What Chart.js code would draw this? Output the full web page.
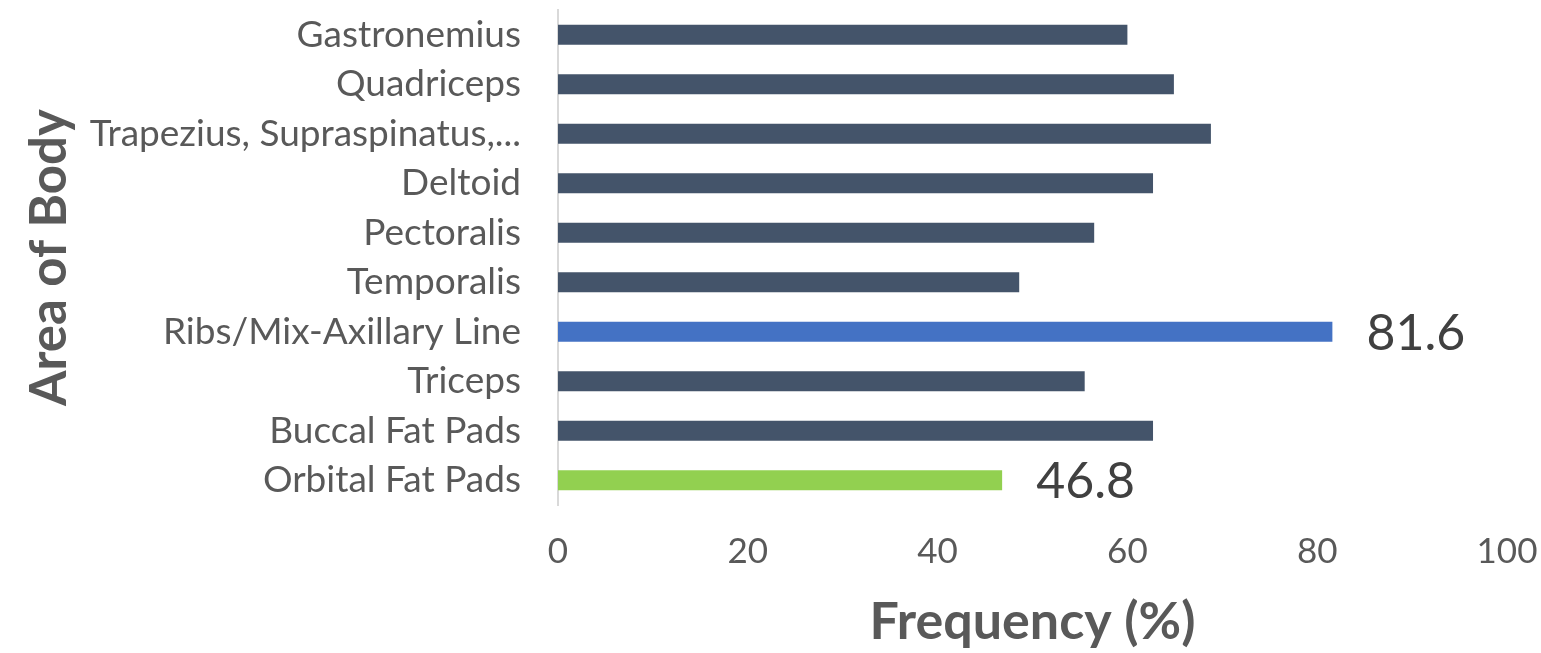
<!DOCTYPE html>
<html>
<head>
<meta charset="utf-8">
<script src="https://cdn.jsdelivr.net/npm/chart.js@4"></script>
<style>
	html, body { margin: 0; padding: 0; background: #ffffff; }
	#wrap { width: 1541px; height: 653px; }
</style>
</head>
<body>
<div id="wrap"><canvas id="bodyChart"></canvas></div>
<script>
// 데이터
var areas = ['Gastronemius', 'Quadriceps', 'Trapezius, Supraspinatus,...', 'Deltoid', 'Pectoralis',
	'Temporalis', 'Ribs/Mix-Axillary Line', 'Triceps', 'Buccal Fat Pads', 'Orbital Fat Pads'];
var frequency = [60.0, 64.9, 68.8, 62.7, 56.5, 48.6, 81.6, 55.5, 62.7, 46.8];
var maxArea = 'Ribs/Mix-Axillary Line';
var minArea = 'Orbital Fat Pads';
var xTicks = [0, 20, 40, 60, 80, 100];

var barColors = areas.map(function(a) {
	if (a === maxArea) return '#4472c4';
	if (a === minArea) return '#92d050';
	return '#44546a';
});

// 최대/최소 막대에만 값 표시
var valueLabels = {
	id: 'valueLabels',
	afterDatasetsDraw: function(chart) {
		var ctx = chart.ctx;
		var meta = chart.getDatasetMeta(0);
		ctx.save();
		ctx.font = '50px Lato';
		ctx.fillStyle = '#404040';
		ctx.textAlign = 'left';
		ctx.textBaseline = 'middle';
		meta.data.forEach(function(bar, i) {
			if (areas[i] !== maxArea && areas[i] !== minArea) return;
			ctx.fillText(frequency[i].toFixed(1), bar.x + 34, bar.y + 2);
		});
		ctx.restore();
	}
};

var chartArea = document.getElementById('bodyChart').getContext('2d');
var myChart = new Chart(chartArea, {
	type: 'bar',
	data: {
		labels: areas,
		datasets: [{
			data: frequency,
			backgroundColor: barColors,
			barPercentage: 0.8,
			categoryPercentage: 0.5
		}]
	},
	options: {
		indexAxis: 'y',
		responsive: true,
		maintainAspectRatio: false,
		animation: false,
		layout: { padding: { top: 10, right: 34, bottom: 0, left: 0 } },
		plugins: {
			legend: { display: false },
			tooltip: { enabled: false }
		},
		scales: {
			x: {
				min: 0,
				max: 100,
				afterBuildTicks: function(scale) {
					scale.ticks = xTicks.map(function(v) { return { value: v }; });
				},
				afterFit: function(scale) {
					scale.height = 148;
					scale.paddingRight = 0;
					scale.paddingLeft = 0;
				},
				grid: { display: false },
				border: { display: false },
				ticks: { color: '#595959', font: { family: 'Lato', size: 35 }, padding: 18 },
				title: {
					display: true,
					text: 'Frequency (%)',
					color: '#595959',
					font: { family: 'Lato', size: 52, weight: 'bold' },
					padding: { top: 0, bottom: 0 }
				}
			},
			y: {
				afterFit: function(scale) {
					scale.width = 558;
					scale.paddingTop = 0;
					scale.paddingBottom = 0;
				},
				grid: { display: false },
				border: { display: true, color: '#d9d9d9', width: 2 },
				ticks: { color: '#595959', font: { family: 'Lato', size: 37 }, padding: 29 },
				title: {
					display: true,
					text: 'Area of Body',
					color: '#595959',
					font: { family: 'Lato', size: 51, weight: 'bold' },
					padding: { top: 19, bottom: 0 }
				}
			}
		}
	},
	plugins: [valueLabels]
});
</script>
</body>
</html>
